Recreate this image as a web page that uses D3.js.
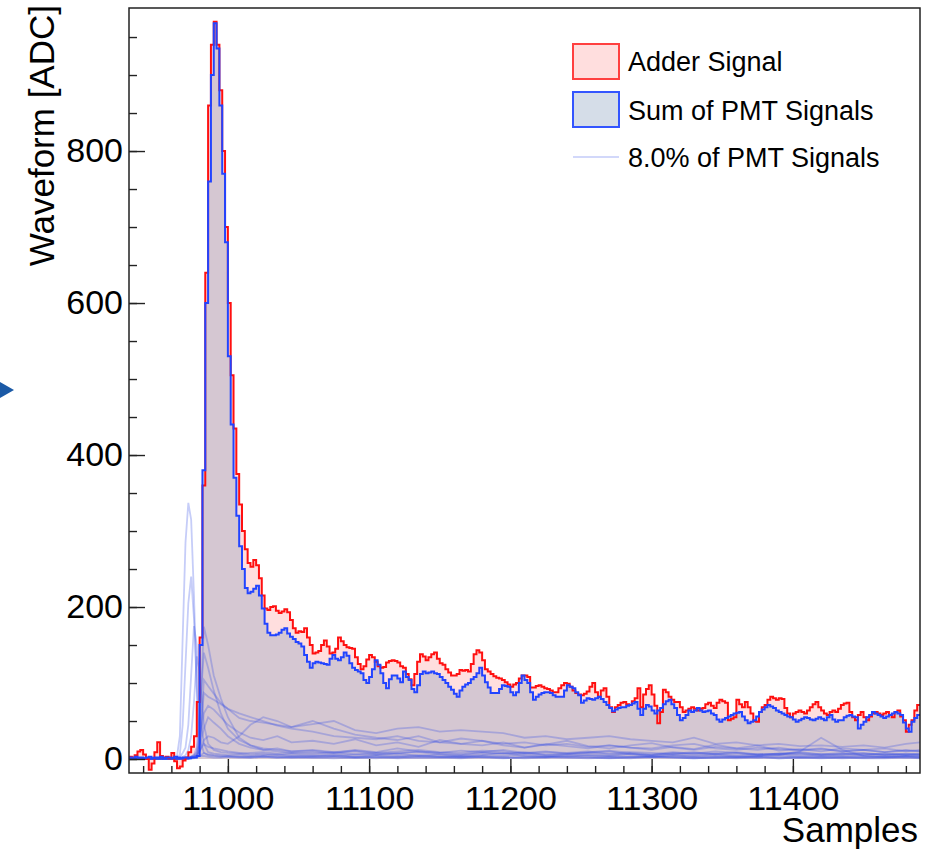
<!DOCTYPE html>
<html>
<head>
<meta charset="utf-8">
<script src="https://cdn.jsdelivr.net/npm/d3@7"></script>
<style>
  body { margin: 0; background: #fff; }
  text { font-family: "Liberation Sans", Arial, Helvetica, sans-serif; }
</style>
</head>
<body>
<svg id="chart" width="933" height="850"></svg>
<script>
// histogram bins: 2 samples wide, starting at sample 10930
const binStart = 10930;
const binWidth = 2;

const adder = [
  3, 2, 5, 10, 12, 6, 0, -14, -6, 9, 22, 4, 2, 3, 1, 8, -3, -12, -10, -2,
  2, 9, 16, 30, 75, 160, 360, 640, 860, 940, 970, 940, 880, 800, 700, 600, 505, 435, 375, 335,
  300, 276, 258, 253, 262, 255, 238, 215, 198, 196, 200, 201, 195, 192, 194, 197, 193, 183, 172, 166,
  168, 167, 172, 160, 150, 139, 140, 142, 150, 156, 148, 139, 140, 145, 160, 155, 150, 147, 146, 145,
  134, 125, 118, 122, 131, 137, 134, 128, 122, 120, 121, 127, 129, 130, 129, 127, 122, 120, 112, 105,
  97, 112, 128, 138, 135, 130, 134, 138, 140, 132, 126, 124, 118, 114, 110, 110, 112, 117, 116, 117,
  115, 125, 138, 143, 140, 130, 118, 115, 112, 109, 107, 106, 104, 101, 98, 95, 98, 100, 106, 110,
  110, 108, 94, 94, 96, 97, 95, 93, 92, 90, 88, 88, 93, 97, 100, 99, 95, 90, 87, 85,
  84, 86, 89, 95, 100, 88, 82, 90, 93, 82, 68, 62, 68, 71, 74, 75, 72, 71, 76, 80,
  93, 68, 85, 92, 97, 85, 70, 47, 62, 91, 88, 82, 78, 75, 75, 68, 62, 64, 66, 68,
  66, 64, 66, 67, 72, 74, 70, 67, 74, 78, 76, 74, 51, 53, 55, 78, 72, 68, 75, 68,
  60, 50, 49, 62, 68, 71, 78, 82, 80, 78, 80, 79, 67, 60, 55, 60, 62, 64, 62, 60,
  64, 68, 72, 75, 68, 64, 60, 58, 62, 64, 62, 66, 71, 73, 74, 62, 55, 51, 58, 62,
  55, 51, 56, 60, 62, 60, 58, 60, 62, 58, 55, 62, 64, 56, 51, 36, 45, 51, 64, 71
];

const pmtSum = [
  2, 1, 3, 2, 2, 1, 2, 3, 1, 2, 2, 3, 1, 2, 2, 1, 3, 2, 1, 2,
  2, 1, 2, 2, 4, 150, 380, 600, 760, 900, 968, 935, 860, 770, 680, 530, 440, 370, 320, 280,
  250, 225, 218, 220, 224, 228, 215, 198, 178, 166, 163, 163, 164, 166, 170, 172, 165, 161, 158, 154,
  152, 148, 137, 128, 120, 126, 128, 127, 126, 125, 124, 132, 137, 132, 130, 134, 140, 136, 126, 120,
  117, 115, 113, 104, 100, 108, 118, 130, 124, 113, 100, 93, 105, 110, 110, 106, 101, 115, 108, 104,
  92, 88, 97, 112, 115, 113, 114, 115, 113, 112, 108, 104, 100, 95, 91, 86, 82, 90, 95, 98,
  100, 105, 108, 113, 120, 110, 101, 94, 87, 87, 87, 92, 97, 96, 95, 88, 84, 88, 100, 110,
  104, 100, 88, 78, 82, 85, 87, 88, 88, 87, 84, 82, 82, 82, 90, 97, 95, 93, 88, 84,
  74, 77, 80, 79, 78, 80, 82, 79, 75, 71, 67, 63, 65, 67, 68, 68, 70, 71, 73, 75,
  66, 58, 66, 71, 69, 64, 60, 64, 67, 72, 76, 78, 72, 67, 58, 51, 54, 58, 64, 62,
  64, 67, 64, 62, 63, 64, 60, 58, 52, 49, 52, 54, 56, 58, 60, 61, 62, 56, 51, 47,
  49, 51, 56, 62, 65, 68, 71, 69, 67, 64, 62, 60, 58, 56, 55, 52, 49, 51, 53, 55,
  54, 52, 51, 53, 55, 53, 51, 55, 58, 52, 49, 51, 51, 55, 57, 58, 56, 55, 40, 45,
  49, 55, 58, 62, 60, 58, 56, 54, 56, 58, 60, 62, 60, 58, 48, 40, 36, 49, 54, 58
];

// sample positions where the individual PMT traces were read
const pmtSamples = [
  10930, 10945, 10960, 10964, 10966, 10968, 10970, 10972, 10974, 10976, 10978,
  10980, 10983, 10986, 10990, 10995, 11000, 11008, 11016, 11025, 11035, 11045,
  11060, 11075, 11090, 11105, 11120, 11135, 11150, 11165, 11180, 11195, 11210,
  11225, 11240, 11255, 11270, 11285, 11300, 11315, 11330, 11345, 11360, 11375,
  11390, 11405, 11420, 11435, 11450, 11465, 11480, 11490
];

const pmtSignals = [
  [0, 0, 1, 4, 30, 160, 285, 337, 315, 215, 90, 4, 4, 3, 2, 2, 3, 2, 2, 3, 2, 3,
   2, 3, 2, 1, 3, 2, 2, 3, 2, 1, 2, 3, 2, 2, 1, 2, 3, 2, 1, 2, 2, 3, 1, 2, 2, 1, 2, 3, 2, 2],
  [0, 1, 0, 1, 6, 45, 125, 205, 240, 185, 95, 28, 8, 5, 4, 3, 4, 3, 3, 4, 3, 2,
   3, 4, 2, 3, 2, 4, 3, 2, 3, 2, 3, 2, 4, 3, 2, 3, 2, 3, 2, 2, 3, 2, 3, 2, 2, 3, 2, 2, 3, 2],
  [1, 0, 1, 0, 2, 8, 15, 45, 110, 175, 150, 65, 20, 9, 7, 6, 5, 6, 4, 5, 6, 4,
   5, 4, 6, 5, 4, 5, 3, 4, 5, 4, 6, 4, 3, 5, 4, 3, 4, 5, 3, 4, 3, 4, 5, 3, 4, 3, 4, 3, 4, 3],
  [0, 1, 0, 0, 1, 3, 5, 12, 30, 75, 135, 115, 45, 20, 12, 9, 8, 7, 8, 9, 7, 8,
   7, 9, 6, 8, 7, 10, 8, 6, 9, 7, 8, 6, 7, 8, 6, 7, 5, 8, 6, 7, 5, 6, 7, 5, 6, 5, 6, 7, 5, 6],
  [0, 0, 1, 0, 0, 1, 0, 2, 3, 5, 10, 40, 174, 150, 110, 80, 55, 28, 18, 12, 14, 10,
   12, 9, 11, 8, 10, 12, 9, 8, 11, 10, 7, 9, 8, 10, 7, 9, 8, 6, 8, 7, 9, 6, 7, 8, 6, 7, 5, 7, 6, 7],
  [0, 1, 0, 0, 1, 0, 1, 0, 2, 3, 5, 12, 104, 96, 86, 74, 66, 54, 50, 48, 45, 42,
   46, 50, 38, 34, 40, 42, 36, 38, 36, 34, 28, 30, 26, 28, 30, 26, 24, 22, 28, 20, 22, 18, 20, 17, 18, 16, 18, 15, 20, 22],
  [1, 0, 0, 1, 0, 1, 0, 1, 2, 3, 6, 20, 87, 82, 78, 72, 66, 60, 55, 50, 44, 40,
   36, 30, 28, 26, 30, 24, 22, 27, 24, 20, 22, 18, 20, 16, 18, 15, 14, 18, 20, 14, 12, 15, 13, 12, 14, 10, 12, 14, 10, 12],
  [0, 0, 1, 0, 1, 0, 1, 2, 3, 6, 15, 60, 140, 120, 90, 60, 40, 25, 18, 14, 12, 10,
   11, 8, 12, 9, 14, 10, 8, 11, 9, 12, 8, 10, 7, 9, 11, 8, 6, 9, 7, 10, 8, 6, 7, 9, 6, 8, 7, 5, 7, 6],
  [1, 0, 0, 0, 1, 1, 0, 2, 3, 4, 8, 25, 60, 70, 65, 55, 45, 35, 28, 25, 30, 22,
   24, 20, 26, 18, 22, 16, 25, 20, 18, 22, 15, 19, 24, 17, 14, 18, 21, 15, 12, 16, 14, 18, 11, 13, 10, 14, 12, 9, 12, 10],
  [0, 0, 0, 1, 0, 0, 1, 1, 2, 3, 5, 18, 40, 55, 48, 40, 30, 20, 15, 12, 10, 8,
   9, 7, 10, 6, 8, 9, 6, 5, 8, 7, 9, 5, 6, 8, 10, 6, 5, 7, 9, 6, 8, 5, 6, 7, 4, 6, 8, 5, 6, 5],
  [0, 0, 1, 0, 0, 1, 0, 0, 1, 2, 4, 10, 25, 30, 28, 22, 20, 30, 45, 55, 50, 42,
   50, 40, 32, 28, 25, 30, 22, 20, 24, 18, 15, 20, 17, 14, 18, 15, 12, 16, 13, 19, 14, 12, 15, 11, 13, 10, 12, 9, 11, 10],
  [0, 1, 0, 0, 1, 0, 1, 0, 1, 1, 2, 4, 8, 6, 5, 4, 3, 3, 2, 3, 2, 2,
   2, 1, 2, 3, 1, 2, 2, 1, 3, 2, 1, 2, 2, 1, 2, 1, 3, 2, 1, 2, 1, 2, 1, 2, 1, 2, 1, 1, 2, 1],
  [1, 0, 1, 0, 0, 1, 0, 1, 2, 2, 4, 10, 20, 16, 14, 12, 10, 8, 6, 7, 5, 6,
   4, 6, 3, 5, 7, 4, 6, 3, 5, 8, 4, 3, 6, 5, 4, 7, 3, 5, 4, 6, 3, 4, 5, 10, 28, 12, 4, 3, 4, 4]
];

const xTicks = [11000, 11100, 11200, 11300, 11400];
const yTicks = [0, 200, 400, 600, 800];
const legendLabels = ["Adder Signal", "Sum of PMT Signals", "8.0% of PMT Signals"];

const svg = d3.select("#chart");
const plotLeft = 129, plotRight = 920, plotTop = 8, plotBottom = 773;
const pmtColor = "rgba(51, 77, 230, 0.28)";

const x = d3.scaleLinear().domain([10930, 11490]).range([plotLeft, plotRight]);
const y = d3.scaleLinear().domain([-18.4, 988.2]).range([plotBottom, plotTop]);

svg.append("defs").append("clipPath").attr("id", "plot-clip")
    .append("rect")
    .attr("x", plotLeft).attr("y", plotTop)
    .attr("width", plotRight - plotLeft).attr("height", plotBottom - plotTop);

function stepPoints(values) {
    const pts = values.map((v, i) => [binStart + i * binWidth, v]);
    pts.push([binStart + values.length * binWidth, values[values.length - 1]]);
    return pts;
}

const stepArea = d3.area()
    .curve(d3.curveStepAfter)
    .x(d => x(d[0]))
    .y0(y(0))
    .y1(d => y(d[1]));

const stepLine = d3.line()
    .curve(d3.curveStepAfter)
    .x(d => x(d[0]))
    .y(d => y(d[1]));

const pmtLine = d3.line()
    .x((d, i) => x(pmtSamples[i]))
    .y(d => y(d));

const plot = svg.append("g").attr("clip-path", "url(#plot-clip)");

// fills first, then individual PMTs, then the outlines on top
plot.append("path")
    .attr("d", stepArea(stepPoints(adder)))
    .attr("fill", "rgba(255, 0, 0, 0.13)");

plot.append("path")
    .attr("d", stepArea(stepPoints(pmtSum)))
    .attr("fill", "rgba(132, 156, 188, 0.34)");

plot.selectAll(".pmt")
    .data(pmtSignals)
    .join("path")
    .attr("class", "pmt")
    .attr("d", pmtLine)
    .attr("fill", "none")
    .attr("stroke", pmtColor)
    .attr("stroke-width", 1.8);

plot.append("path")
    .attr("d", stepLine(stepPoints(adder)))
    .attr("fill", "none")
    .attr("stroke", "#ff1010")
    .attr("stroke-width", 2);

plot.append("path")
    .attr("d", stepLine(stepPoints(pmtSum)))
    .attr("fill", "none")
    .attr("stroke", "#2244ff")
    .attr("stroke-width", 2);

// axes, ticks pointing into the frame
svg.append("g")
    .attr("transform", `translate(0,${plotBottom})`)
    .call(d3.axisBottom(x).tickValues(xTicks).tickSize(-14).tickPadding(13).tickFormat(d3.format("d")));

svg.append("g")
    .attr("transform", `translate(0,${plotBottom})`)
    .call(d3.axisBottom(x).tickValues(d3.range(10940, 11490, 20)).tickSize(-7).tickFormat(""));

svg.append("g")
    .attr("transform", `translate(${plotLeft},0)`)
    .call(d3.axisLeft(y).tickValues(yTicks).tickSize(-16).tickPadding(6));

svg.append("g")
    .attr("transform", `translate(${plotLeft},0)`)
    .call(d3.axisLeft(y).tickValues(d3.range(0, 988, 50)).tickSize(-8).tickFormat(""));

svg.selectAll(".domain").remove();
svg.selectAll(".tick line").attr("stroke", "#222").attr("stroke-width", 1.4);
svg.selectAll(".tick text").attr("font-size", 34).attr("fill", "#000")
    .style("font-family", "'Liberation Sans', Arial, sans-serif");

svg.append("rect")
    .attr("x", plotLeft).attr("y", plotTop)
    .attr("width", plotRight - plotLeft).attr("height", plotBottom - plotTop)
    .attr("fill", "none")
    .attr("stroke", "#222")
    .attr("stroke-width", 1.5);

svg.append("text")
    .attr("x", 918).attr("y", 842)
    .attr("text-anchor", "end")
    .attr("font-size", 35)
    .text("Samples");

svg.append("text")
    .attr("transform", "translate(54,5) rotate(-90)")
    .attr("text-anchor", "end")
    .attr("font-size", 35)
    .text("Waveform [ADC]");

// legend
const legend = svg.append("g").attr("transform", "translate(573,44)");
legend.append("rect")
    .attr("x", 0).attr("y", 0).attr("width", 46).attr("height", 35)
    .attr("fill", "rgba(255, 0, 0, 0.13)").attr("stroke", "#ff4040").attr("stroke-width", 2);
legend.append("rect")
    .attr("x", 0).attr("y", 48).attr("width", 46).attr("height", 35)
    .attr("fill", "rgba(132, 156, 188, 0.34)").attr("stroke", "#3355ff").attr("stroke-width", 2);
legend.append("line")
    .attr("x1", 0).attr("x2", 46).attr("y1", 113).attr("y2", 113)
    .attr("stroke", "rgba(51, 77, 230, 0.22)").attr("stroke-width", 2);

legend.selectAll(".label")
    .data(legendLabels)
    .join("text")
    .attr("class", "label")
    .attr("x", 55)
    .attr("y", (d, i) => [27, 76, 123][i])
    .attr("font-size", 27)
    .text(d => d);

// slide arrow peeking in at the left edge
svg.append("path")
    .attr("d", "M0,382L14,390L0,398Z")
    .attr("fill", "#1b5aa6");
</script>
</body>
</html>
